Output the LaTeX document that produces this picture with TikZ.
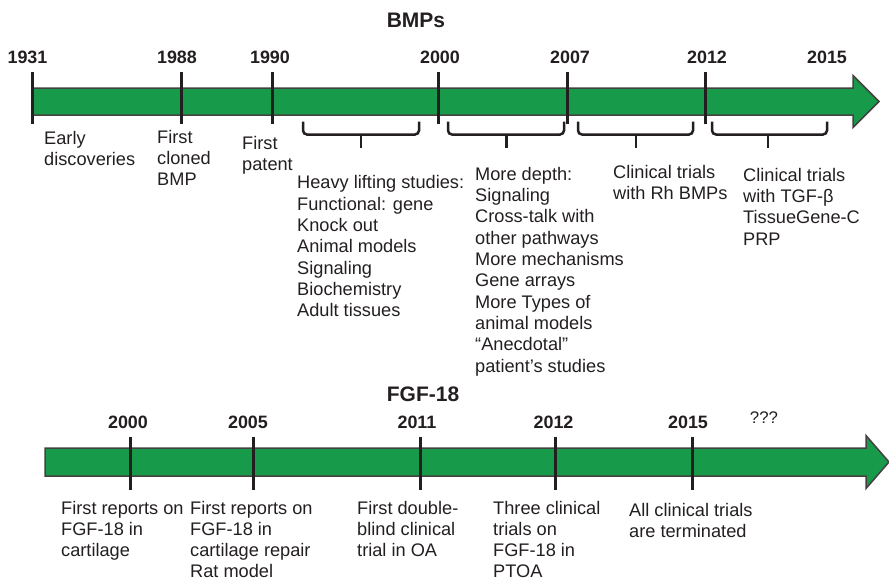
\documentclass[tikz,border=0pt]{standalone}
\usepackage{fontspec}
\setmainfont{Liberation Sans}
\definecolor{txt}{HTML}{231F20}
\definecolor{grn}{HTML}{179A4A}
\begin{document}
\begin{tikzpicture}[x=1pt,y=-1pt,
  lbl/.style={anchor=north west,inner sep=0pt,align=left,font=\fontsize{18.2}{21.3}\selectfont,text=txt},
  lblb/.style={lbl,font=\fontsize{18.2}{21}\selectfont},
  yr/.style={anchor=south,inner sep=0pt,font=\fontsize{17.9}{20}\selectfont\bfseries,text=txt},
  ttl/.style={anchor=south,inner sep=0pt,font=\fontsize{21}{24}\selectfont\bfseries,text=txt},
  yeartick/.style={draw=txt,line width=3pt},
  arrowbody/.style={fill=grn,draw=txt!85,line width=1.5pt,line join=miter},
  bracestyle/.style={draw=txt,line width=2.5pt,rounded corners=4pt}]
\useasboundingbox (0,0) rectangle (889,581);

% ---------- BMPs ----------
\node[ttl] (tbmp) at (416,28.3) {BMPs};
\draw[arrowbody] (32,88) -- (853,88) -- (853,75.5) -- (879,101.5) -- (853,127.5) -- (853,115) -- (32,115) -- cycle;
\foreach \x in {32,181,272.7,438.3,567.7,705.7}
  \draw[yeartick] (\x,71.5) -- (\x,123.5);
\node[yr] (y1931) at (27.5,64) {1931};
\node[yr] (y1988) at (177,64) {1988};
\node[yr] (y1990) at (270,64) {1990};
\node[yr] (y2000a) at (440,64) {2000};
\node[yr] (y2007) at (570,64) {2007};
\node[yr] (y2012a) at (707,64) {2012};
\node[yr] (y2015a) at (827,64) {2015};

% braces
\foreach \a/\b/\c in {303/419/361,448/564/506.7,578/693/636,712/827/768}{
  \draw[bracestyle] (\a,121.5) -- (\a,134.5) -- (\b,134.5) -- (\b,121.5);
  \draw[draw=txt,line width=2.5pt] (\c,134.5) -- (\c,147.7);
}

\node[lbl] (early) at (44,130.7) {Early\\discoveries};
\node[lbl] (cloned) at (157,130) {First\\cloned\\BMP};
\node[lbl] (patent) at (242,135.7) {First\\patent};
\node[lbl] (heavy) at (297,175.5) {Heavy lifting studies:\\Functional: gene\\Knock out\\Animal models\\Signaling\\Biochemistry\\Adult tissues};
\node[lbl] (depth) at (475,167) {More depth:\\Signaling\\Cross-talk with\\other pathways\\More mechanisms\\Gene arrays\\More Types of\\animal models\\“Anecdotal”\\patient’s studies};
\node[lbl] (rh) at (613,165) {Clinical trials\\with Rh BMPs};
\node[lbl] (tgf) at (743,168) {Clinical trials\\with TGF-β\\TissueGene-C\\PRP};

% ---------- FGF-18 ----------
\node[ttl] (tfgf) at (423,402.3) {FGF-18};
\draw[arrowbody] (45,448) -- (866,448) -- (866,435.5) -- (889,462) -- (866,488.5) -- (866,476) -- (45,476) -- cycle;
\foreach \x in {130,253,420,555.7,692.7}
  \draw[yeartick] (\x,437) -- (\x,490);
\node[yr] (y2000b) at (128,429.3) {2000};
\node[yr] (y2005) at (248,429.3) {2005};
\node[yr] (y2011) at (417,429.3) {2011};
\node[yr] (y2012b) at (553.5,429.3) {2012};
\node[yr] (y2015b) at (688,429.3) {2015};
\node[anchor=south,inner sep=0pt,font=\fontsize{16.8}{20}\selectfont,text=txt] (qqq) at (764,424) {???};

\node[lblb] (rep1) at (61,501.5) {First reports on\\FGF-18 in\\cartilage};
\node[lblb] (rep2) at (190,501.5) {First reports on\\FGF-18 in\\cartilage repair\\Rat model};
\node[lblb] (dbl) at (357,501) {First double-\\blind clinical\\trial in OA};
\node[lblb] (three) at (493,501.5) {Three clinical\\trials on\\FGF-18 in\\PTOA};
\node[lblb] (term) at (629,503) {All clinical trials\\are terminated};
\end{tikzpicture}
\end{document}
